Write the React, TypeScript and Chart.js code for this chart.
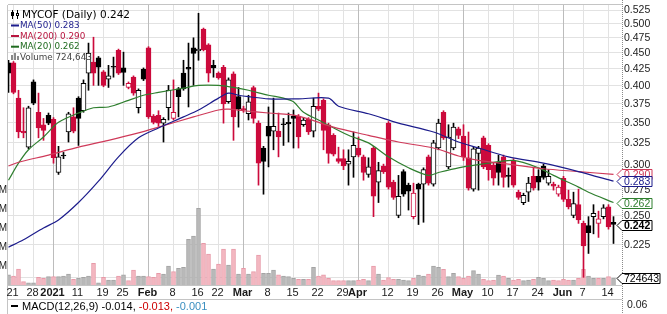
import React, { useEffect, useRef } from "react";
import { Chart, registerables } from "chart.js";
Chart.register(...registerables);

// ---- data (trading-day index, first candle = Dec 18 2020 at index -1) ----
const FIRST_INDEX = -1;
const opens = [
  0.434, 0.434, 0.382, 0.339, 0.320, 0.405, 0.363, 0.347, 0.359, 0.354,
  0.292, 0.311, 0.338, 0.357, 0.382, 0.365, 0.418, 0.435, 0.442, 0.420,
  0.409, 0.428, 0.454, 0.426, 0.397, 0.412, 0.369, 0.424, 0.458, 0.358,
  0.359, 0.349, 0.369, 0.355, 0.395, 0.418, 0.427, 0.458, 0.453, 0.490,
  0.463, 0.430, 0.418, 0.427, 0.377, 0.417, 0.384, 0.368, 0.361, 0.397,
  0.349, 0.319, 0.345, 0.339, 0.339, 0.348, 0.350, 0.358, 0.358, 0.347,
  0.354, 0.339, 0.371, 0.379, 0.347, 0.334, 0.307, 0.307, 0.301, 0.309,
  0.319, 0.309, 0.290, 0.319, 0.282, 0.299, 0.349, 0.282, 0.250, 0.293,
  0.279, 0.249, 0.280, 0.280, 0.309, 0.280, 0.319, 0.363, 0.298, 0.319,
  0.342, 0.333, 0.308, 0.275, 0.313, 0.331, 0.322, 0.300, 0.303, 0.309,
  0.289, 0.305, 0.272, 0.262, 0.272, 0.288, 0.288, 0.299, 0.281, 0.280,
  0.270, 0.286, 0.265, 0.250, 0.260, 0.243, 0.241, 0.249, 0.243, 0.249,
  0.258, 0.244,
];
const highs = [
  0.438, 0.436, 0.393, 0.369, 0.371, 0.408, 0.389, 0.355, 0.362, 0.356,
  0.321, 0.314, 0.363, 0.369, 0.384, 0.408, 0.466, 0.476, 0.444, 0.422,
  0.430, 0.443, 0.456, 0.451, 0.405, 0.414, 0.395, 0.426, 0.460, 0.360,
  0.365, 0.356, 0.400, 0.408, 0.397, 0.438, 0.466, 0.475, 0.519, 0.492,
  0.465, 0.438, 0.420, 0.430, 0.411, 0.420, 0.397, 0.371, 0.386, 0.399,
  0.352, 0.321, 0.370, 0.382, 0.362, 0.355, 0.362, 0.366, 0.360, 0.356,
  0.356, 0.382, 0.389, 0.381, 0.349, 0.336, 0.320, 0.317, 0.317, 0.338,
  0.332, 0.311, 0.308, 0.321, 0.303, 0.301, 0.351, 0.284, 0.289, 0.295,
  0.281, 0.281, 0.281, 0.297, 0.311, 0.328, 0.354, 0.365, 0.347, 0.349,
  0.344, 0.347, 0.338, 0.320, 0.321, 0.333, 0.324, 0.302, 0.311, 0.311,
  0.297, 0.307, 0.274, 0.271, 0.287, 0.297, 0.295, 0.301, 0.295, 0.282,
  0.279, 0.288, 0.274, 0.272, 0.275, 0.245, 0.249, 0.260, 0.254, 0.260,
  0.260, 0.249,
];
const lows = [
  0.390, 0.388, 0.331, 0.331, 0.318, 0.373, 0.331, 0.328, 0.347, 0.302,
  0.290, 0.307, 0.326, 0.337, 0.322, 0.363, 0.393, 0.400, 0.400, 0.398,
  0.397, 0.412, 0.416, 0.400, 0.395, 0.386, 0.362, 0.407, 0.355, 0.348,
  0.345, 0.326, 0.353, 0.353, 0.357, 0.393, 0.370, 0.400, 0.438, 0.453,
  0.405, 0.412, 0.409, 0.349, 0.375, 0.328, 0.344, 0.363, 0.353, 0.349,
  0.279, 0.270, 0.298, 0.317, 0.309, 0.322, 0.326, 0.319, 0.319, 0.345,
  0.335, 0.332, 0.365, 0.317, 0.302, 0.310, 0.302, 0.295, 0.279, 0.287,
  0.309, 0.284, 0.287, 0.249, 0.262, 0.291, 0.275, 0.265, 0.248, 0.268,
  0.255, 0.247, 0.242, 0.244, 0.279, 0.278, 0.317, 0.329, 0.296, 0.317,
  0.330, 0.305, 0.274, 0.273, 0.274, 0.296, 0.284, 0.279, 0.279, 0.277,
  0.277, 0.277, 0.265, 0.260, 0.263, 0.274, 0.274, 0.285, 0.279, 0.274,
  0.268, 0.263, 0.256, 0.248, 0.243, 0.200, 0.218, 0.234, 0.231, 0.247,
  0.238, 0.226,
];
const closes = [
  0.418, 0.390, 0.338, 0.337, 0.369, 0.375, 0.343, 0.340, 0.349, 0.308,
  0.309, 0.310, 0.361, 0.339, 0.355, 0.403, 0.449, 0.418, 0.427, 0.400,
  0.414, 0.427, 0.418, 0.419, 0.403, 0.389, 0.393, 0.409, 0.357, 0.350,
  0.349, 0.354, 0.393, 0.363, 0.384, 0.395, 0.424, 0.449, 0.456, 0.455,
  0.418, 0.426, 0.411, 0.374, 0.408, 0.357, 0.367, 0.366, 0.377, 0.355,
  0.302, 0.304, 0.333, 0.345, 0.332, 0.347, 0.348, 0.355, 0.332, 0.353,
  0.338, 0.371, 0.367, 0.340, 0.313, 0.312, 0.304, 0.299, 0.304, 0.322,
  0.311, 0.292, 0.298, 0.268, 0.294, 0.293, 0.277, 0.267, 0.268, 0.270,
  0.273, 0.271, 0.275, 0.295, 0.281, 0.325, 0.349, 0.331, 0.332, 0.344,
  0.334, 0.309, 0.276, 0.318, 0.319, 0.298, 0.295, 0.286, 0.292, 0.287,
  0.288, 0.279, 0.267, 0.269, 0.281, 0.276, 0.282, 0.287, 0.288, 0.278,
  0.277, 0.265, 0.258, 0.261, 0.246, 0.224, 0.235, 0.252, 0.247, 0.257,
  0.240, 0.242,
];
// volume in millions
const volumes = [
  1.06, 0.94, 1.68, 0.36, 0.24, 0.24, 0.80, 0.70, 0.88, 0.88,
  0.88, 0.94, 1.16, 0.60, 0.70, 0.80, 0.94, 2.28, 0.24, 0.80,
  0.52, 0.52, 0.94, 1.06, 0.46, 1.58, 0.94, 0.94, 0.88, 0.80,
  1.22, 1.16, 2.00, 1.40, 1.76, 1.86, 4.80, 5.16, 8.08, 4.38,
  3.26, 1.68, 2.20, 3.78, 2.10, 3.78, 1.16, 1.76, 1.16, 1.40,
  3.16, 1.22, 1.22, 1.58, 1.06, 0.94, 0.88, 0.70, 0.60, 0.60,
  0.60, 1.86, 0.94, 1.06, 0.70, 0.46, 0.46, 0.46, 0.46, 0.46,
  0.52, 0.60, 0.46, 2.00, 1.16, 0.52, 0.78, 0.60, 0.60, 0.52,
  0.46, 0.70, 1.05, 0.95, 1.16, 2.00, 1.86, 1.65, 0.88, 1.23,
  0.88, 0.70, 0.95, 1.51, 1.16, 0.60, 0.46, 0.53, 1.05, 0.95,
  0.70, 0.53, 0.60, 0.46, 0.53, 0.60, 0.81, 0.70, 0.46, 0.53,
  0.46, 0.60, 0.53, 0.53, 0.70, 1.65, 0.95, 0.70, 0.70, 0.70,
  0.88, 0.72,
];

// moving averages (day index, value)
const ma50Idx = [-1, 2, 6, 9, 13, 17, 21, 25, 29, 34, 37, 41, 43, 45, 47, 51, 57, 63, 65, 71, 77, 84, 89, 93, 99, 106, 113, 120];
const ma50Val = [0.223, 0.229, 0.239, 0.246, 0.262, 0.283, 0.309, 0.331, 0.343, 0.357, 0.366, 0.382, 0.389, 0.386, 0.384, 0.381, 0.381, 0.382, 0.371, 0.361, 0.349, 0.338, 0.326, 0.319, 0.309, 0.302, 0.293, 0.283];
const ma200Idx = [-1, 1, 7, 13, 19, 25, 29, 36, 41, 43, 46, 51, 57, 64, 71, 77, 84, 89, 93, 99, 106, 113, 120];
const ma200Val = [0.299, 0.303, 0.311, 0.320, 0.328, 0.337, 0.344, 0.357, 0.366, 0.367, 0.365, 0.362, 0.358, 0.344, 0.334, 0.326, 0.319, 0.310, 0.305, 0.301, 0.296, 0.293, 0.290];
const ma20Idx = [-1, 1, 3, 6, 9, 13, 16, 19, 23, 26, 29, 34, 37, 41, 44, 47, 51, 54, 56, 58, 61, 67, 71, 75, 79, 83, 85, 89, 95, 100, 105, 108, 113, 115, 120];
const ma20Val = [0.284, 0.302, 0.317, 0.332, 0.350, 0.362, 0.369, 0.370, 0.379, 0.386, 0.390, 0.396, 0.400, 0.400, 0.397, 0.393, 0.386, 0.382, 0.377, 0.363, 0.353, 0.334, 0.325, 0.309, 0.297, 0.289, 0.292, 0.297, 0.302, 0.305, 0.297, 0.289, 0.277, 0.272, 0.262];

// x-axis ticks
const dateTickIdx = [0, 4, 8, 13, 18, 22, 27, 32, 37, 41, 46, 51, 56, 61, 66, 69, 75, 80, 85, 90, 95, 100, 105, 110, 114, 119];
const dateTickLabels = ["21", "28", "2021", "11", "19", "25", "Feb", "8", "16", "22", "Mar", "8", "15", "22", "29", "Apr", "12", "19", "26", "May", "10", "17", "24", "Jun", "7", "14"];
const boldLabels = ["2021", "Feb", "Mar", "Apr", "May", "Jun"];
const priceTicks = [0.2, 0.225, 0.25, 0.275, 0.3, 0.325, 0.35, 0.375, 0.4, 0.425, 0.45, 0.475, 0.5, 0.525];
const priceLabelTicks = [0.225, 0.25, 0.275, 0.3, 0.325, 0.35, 0.375, 0.4, 0.425, 0.45, 0.475, 0.5, 0.525];
const volTicks = [2, 4, 6, 8, 10];

const lastClose = "0.242";
const lastMA50 = "0.283";
const lastMA200 = "0.290";
const lastMA20 = "0.262";
const lastVolume = 724643;
const macdValues = ["-0.014", "-0.013", "-0.001"];

const RED = "#cc0a3c";
const BLUE = "#1c1c8c";
const MARED = "#cf3a5a";
const GREEN = "#2f7f2f";
const FONT = "'Liberation Sans', Arial, sans-serif";
const LFONT = "'DejaVu Sans', Verdana, sans-serif";

const idx = closes.map((_, k) => k + FIRST_INDEX);
const isUp = (k: number) => (k === 0 ? true : closes[k] >= closes[k - 1]);
const candleCol = (k: number) => (isUp(k) ? "#000000" : RED);
const isHollow = (k: number) => closes[k] > opens[k];

const overlay = {
  id: "overlay",
  beforeDraw(chart: any) {
    const c = chart.ctx;
    c.save();
    c.fillStyle = "#ffffff";
    c.fillRect(0, 0, chart.width, chart.height);
    c.restore();
  },
  beforeDatasetsDraw(chart: any) {
    const c = chart.ctx;
    const a = chart.chartArea;
    const xs = chart.scales.x;
    const ys = chart.scales.y;
    c.save();
    c.lineWidth = 1;
    const line = (x1: number, y1: number, x2: number, y2: number) => {
      c.beginPath();
      c.moveTo(x1, y1);
      c.lineTo(x2, y2);
      c.stroke();
    };
    c.strokeStyle = "#e2e2e2";
    for (const v of priceTicks) {
      const y = Math.floor(ys.getPixelForValue(v)) + 0.5;
      if (y < a.top || y > a.bottom) continue;
      line(a.left, y, a.right, y);
    }
    dateTickIdx.forEach((d, k) => {
      const x = Math.floor(xs.getPixelForValue(d)) + 0.5;
      c.strokeStyle = boldLabels.includes(dateTickLabels[k]) ? "#bcbcbc" : "#e2e2e2";
      line(x, a.top, x, a.bottom);
    });
    c.strokeStyle = "#c4c4c4";
    line(a.left, a.top - 0.5, a.right, a.top - 0.5);
    line(a.left - 0.5, a.top, a.left - 0.5, 314);
    line(a.left, a.bottom + 0.5, a.right, a.bottom + 0.5);
    line(a.left, 299.5, a.right, 299.5);
    c.restore();
  },
  afterDraw(chart: any) {
    const c = chart.ctx;
    const a = chart.chartArea;
    const xs = chart.scales.x;
    const ys = chart.scales.y;
    const vs = chart.scales.v;
    c.save();
    // right axis dotted line
    c.strokeStyle = "#8a8a8a";
    c.lineWidth = 1;
    c.setLineDash([1, 1]);
    c.beginPath();
    c.moveTo(a.right + 0.5, 0);
    c.lineTo(a.right + 0.5, 314);
    c.stroke();
    c.setLineDash([]);

    // price labels
    c.font = `10.5px ${FONT}`;
    c.fillStyle = "#222";
    c.textAlign = "left";
    c.textBaseline = "middle";
    for (const v of priceLabelTicks) {
      c.fillText(v.toFixed(3), a.right + 2, ys.getPixelForValue(v) + 0.5);
    }
    // tags
    const tag = (yc: number, text: string, col: string, bold: boolean, w: number) => {
      const x0 = a.right - 5;
      c.beginPath();
      c.moveTo(x0, yc);
      c.lineTo(x0 + 5, yc - 5);
      c.lineTo(x0 + 5 + w, yc - 5);
      c.lineTo(x0 + 5 + w, yc + 5);
      c.lineTo(x0 + 5, yc + 5);
      c.closePath();
      c.fillStyle = "#fff";
      c.fill();
      c.strokeStyle = col;
      c.lineWidth = 1;
      c.stroke();
      c.font = `${bold ? "bold " : ""}10.5px ${FONT}`;
      c.fillStyle = bold ? "#000" : col;
      c.fillText(text, a.right + 2, yc + 0.5);
    };
    tag(Math.round(ys.getPixelForValue(parseFloat(lastMA200))) + 0.5, lastMA200, MARED, false, 30);
    tag(Math.round(ys.getPixelForValue(parseFloat(lastMA50))) + 0.5, lastMA50, BLUE, false, 30);
    tag(Math.round(ys.getPixelForValue(parseFloat(lastMA20))) + 0.5, lastMA20, GREEN, false, 30);
    tag(Math.round(ys.getPixelForValue(parseFloat(lastClose))) + 0.5, lastClose, "#000", true, 30);
    tag(Math.round(vs.getPixelForValue(lastVolume / 1e6)) + 0.5, String(lastVolume), "#000", false, 38);

    // volume axis labels (cut at left edge)
    c.font = `10px ${FONT}`;
    c.fillStyle = "#222";
    c.textAlign = "right";
    for (const v of volTicks) {
      c.fillText(`${v}M`, 7, vs.getPixelForValue(v) + 0.5);
    }

    // date labels
    c.textAlign = "center";
    dateTickIdx.forEach((d, k) => {
      const lbl = dateTickLabels[k];
      c.font = `${boldLabels.includes(lbl) ? "bold " : ""}11px ${FONT}`;
      c.fillStyle = "#1a1a1a";
      c.fillText(lbl, xs.getPixelForValue(d) - 1, 293);
    });

    // legend
    c.textAlign = "left";
    c.fillStyle = "#000";
    c.fillRect(12, 10, 1, 9);
    c.fillRect(11, 12, 3, 4);
    c.fillRect(17, 10, 1, 9);
    c.fillStyle = "#fff";
    c.strokeStyle = "#000";
    c.fillRect(16, 13, 3, 3);
    c.strokeRect(16.5, 13.5, 2, 2);
    c.font = `10.5px ${LFONT}`;
    c.fillStyle = "#000";
    c.fillText(`MYCOF (Daily) ${lastClose}`, 22, 15);
    const legLine = (y: number, col: string, text: string) => {
      c.fillStyle = col;
      c.fillRect(11, y - 1, 8, 2);
      c.font = `8.8px ${LFONT}`;
      c.fillText(text, 20, y + 0.5);
    };
    legLine(25.5, BLUE, `MA(50) ${lastMA50}`);
    legLine(36, "#b8143e", `MA(200) ${lastMA200}`);
    legLine(46.7, "#1f6b1f", `MA(20) ${lastMA20}`);
    c.fillStyle = "#8a8a8a";
    c.fillRect(11, 55, 2, 5);
    c.fillRect(14, 53, 2, 7);
    c.fillRect(17, 56, 2, 4);
    c.fillStyle = "#444";
    c.font = `8.8px ${LFONT}`;
    c.fillText(`Volume ${lastVolume.toLocaleString("en-US")}`, 20, 57.8);

    // MACD panel legend
    c.fillStyle = "#000";
    c.fillRect(11, 305, 7, 2);
    c.font = `11px ${FONT}`;
    let x = 22;
    const parts = [
      { t: `MACD(12,26,9) ${macdValues[0]}, `, col: "#000" },
      { t: `${macdValues[1]}, `, col: "#cc0000" },
      { t: `${macdValues[2]}`, col: "#3a8fc0" },
    ];
    for (const p of parts) {
      c.fillStyle = p.col;
      c.fillText(p.t, x, 306.5);
      x += c.measureText(p.t).width;
    }
    c.fillStyle = "#222";
    c.font = `10.5px ${FONT}`;
    c.fillText("0.06", a.right + 5, 305.5);
    c.restore();
  },
};

export default function App() {
  const ref = useRef<HTMLCanvasElement>(null);
  useEffect(() => {
    document.body.style.margin = "0";
    const canvas = ref.current!;
    const volData = idx.map((i, k) => ({ x: i, y: volumes[k] }));
    const wickData = idx.map((i, k) => ({ x: i, y: [lows[k], highs[k]] }));
    const bodyData = idx.map((i, k) => ({
      x: i,
      y: [Math.min(opens[k], closes[k]), Math.max(opens[k], closes[k])],
    }));
    const chart = new Chart(canvas, {
      type: "bar",
      data: {
        datasets: [
          {
            type: "line",
            label: "MA(50)",
            data: ma50Idx.map((d, k) => ({ x: d, y: ma50Val[k] })),
            borderColor: BLUE,
            borderWidth: 1.2,
            pointRadius: 0,
            tension: 0.3,
            yAxisID: "y",
            order: 1,
          },
          {
            type: "line",
            label: "MA(200)",
            data: ma200Idx.map((d, k) => ({ x: d, y: ma200Val[k] })),
            borderColor: MARED,
            borderWidth: 1.2,
            pointRadius: 0,
            tension: 0.3,
            yAxisID: "y",
            order: 2,
          },
          {
            type: "line",
            label: "MA(20)",
            data: ma20Idx.map((d, k) => ({ x: d, y: ma20Val[k] })),
            borderColor: GREEN,
            borderWidth: 1.2,
            pointRadius: 0,
            tension: 0.3,
            yAxisID: "y",
            order: 3,
          },
          {
            type: "bar",
            label: "body",
            data: bodyData as any,
            yAxisID: "y",
            grouped: false,
            barThickness: 5,
            minBarLength: 1,
            borderWidth: 1,
            borderSkipped: false,
            backgroundColor: (ctx: any) => (isHollow(ctx.dataIndex) ? "#ffffff" : candleCol(ctx.dataIndex)),
            borderColor: (ctx: any) => candleCol(ctx.dataIndex),
            order: 4,
          } as any,
          {
            type: "bar",
            label: "wick",
            data: wickData as any,
            yAxisID: "y",
            grouped: false,
            barThickness: 1,
            borderWidth: 0,
            backgroundColor: (ctx: any) => candleCol(ctx.dataIndex),
            order: 5,
          } as any,
          {
            type: "bar",
            label: "Volume",
            data: volData as any,
            yAxisID: "v",
            grouped: false,
            barThickness: 4,
            borderWidth: 1,
            borderSkipped: "bottom",
            backgroundColor: (ctx: any) => (isUp(ctx.dataIndex) ? "#b9b9b9" : "#f3b7c1"),
            borderColor: (ctx: any) => (isUp(ctx.dataIndex) ? "#a4a4a4" : "#e79aa8"),
            order: 10,
          } as any,
        ],
      },
      options: {
        responsive: false,
        animation: false,
        events: [],
        layout: { padding: { left: 8, right: 45, top: 5, bottom: 29 } },
        scales: {
          x: { type: "linear", min: -1.1, max: 121.7, display: false, offset: false, grid: { offset: false } },
          y: { type: "logarithmic", position: "right", min: 0.19453, max: 0.53472, display: false },
          v: { type: "linear", position: "left", min: 0, max: 280 / 9.5, display: false },
        },
        plugins: { legend: { display: false }, tooltip: { enabled: false } },
      } as any,
      plugins: [overlay],
    } as any);
    return () => chart.destroy();
  }, []);
  return (
    <div style={{ position: "absolute", left: 0, top: 0, width: 667, height: 314 }}>
      <canvas ref={ref} width={667} height={314} style={{ display: "block" }} />
    </div>
  );
}
